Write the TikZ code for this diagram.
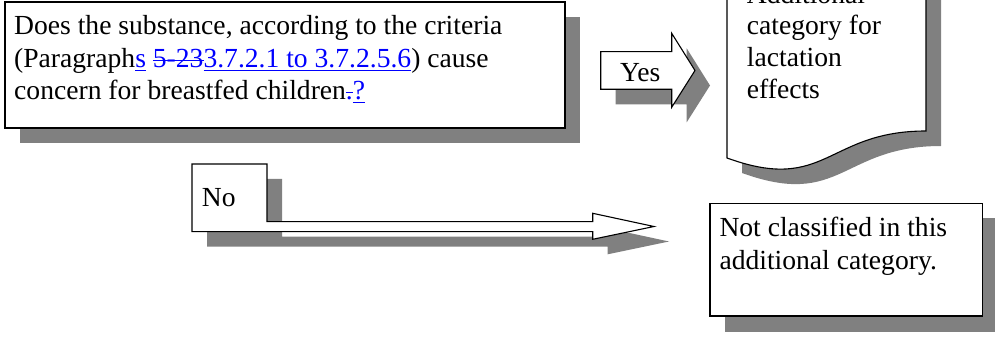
\documentclass[tikz,border=0pt]{standalone}
\usepackage{fontspec}
\setmainfont{Liberation Serif}
\newsavebox\revbox
\newcommand\revundl[1]{\sbox\revbox{#1}\rlap{\rule[-0.11em]{\wd\revbox}{0.9pt}}\usebox\revbox}
\newcommand\revstrk[1]{\sbox\revbox{#1}\rlap{\rule[0.25em]{\wd\revbox}{0.9pt}}\usebox\revbox}
\definecolor{shadowgray}{HTML}{808080}
\definecolor{revblue}{RGB}{0,0,255}
\begin{document}
\begin{tikzpicture}[x=1pt,y=-1pt,
  outline/.style={draw=black, fill=white, line width=1.1pt, line join=miter},
  shadowc/.style={fill=shadowgray, draw=none},
  txt/.style={anchor=base west, inner sep=0pt, font=\fontsize{27.6}{32.3}\selectfont}]
\useasboundingbox (0,0) rectangle (997,339);
\clip (0,0) rectangle (997,339);

% main question box
\fill[shadowc] (20,17) rectangle (580,143);
\draw[outline] (5,2) rectangle (565,128);
\node[txt] (q1) at (14,35) {Does the substance, according to the criteria};
\node[txt] (q2) at (14,67.5) {(Paragraph{\color{revblue}\revundl{s}} {\color{revblue}\revstrk{5-23}\revundl{3.7.2.1 to 3.7.2.5.6}}) cause};
\node[txt] (q3) at (14,99.5) {concern for breastfed children{\color{revblue}\revstrk{.}\revundl{?}}};

% Yes block arrow
\fill[shadowc, shift={(15,15)}] (600.7,51.7) -- (671.7,51.7) -- (671.7,33.3) -- (695,70.5) -- (671.7,107.3) -- (671.7,89.3) -- (600.7,89.3) -- cycle;
\draw[outline] (600.7,51.7) -- (671.7,51.7) -- (671.7,33.3) -- (695,70.5) -- (671.7,107.3) -- (671.7,89.3) -- (600.7,89.3) -- cycle;
\node[txt] (yes) at (620,82) {Yes};

% document shape
\fill[shadowc, shift={(15,15)}] (727,-40) -- (926,-40) -- (926,131) .. controls (826.5,131) and (826.5,194) .. (727,158) -- cycle;
\draw[outline] (727,-40) -- (926,-40) -- (926,131) .. controls (826.5,131) and (826.5,194) .. (727,158) -- cycle;
\node[txt] (d1) at (746.7,3.5) {Additional};
\node[txt] (d2) at (746.7,35) {category for};
\node[txt] (d3) at (746.7,67) {lactation};
\node[txt] (d4) at (746.7,98.5) {effects};

% No callout with long arrow
\fill[shadowc, shift={(15,15)}] (192,164) -- (267,164) -- (267,221.7) -- (592.7,221.7) -- (592.7,213.3) -- (654,226.5) -- (592.7,239.3) -- (592.7,231.7) -- (192,231.7) -- cycle;
\draw[outline] (192,164) -- (267,164) -- (267,221.7) -- (592.7,221.7) -- (592.7,213.3) -- (654,226.5) -- (592.7,239.3) -- (592.7,231.7) -- (192,231.7) -- cycle;
\node[txt] (no) at (201.7,207) {No};

% not classified box
\fill[shadowc] (725,218) rectangle (995,331.7);
\draw[outline] (710,203.3) rectangle (982.7,316);
\node[txt] (n1) at (719.3,236.7) {Not classified in this};
\node[txt] (n2) at (719.3,270) {additional category.};
\end{tikzpicture}
\end{document}
